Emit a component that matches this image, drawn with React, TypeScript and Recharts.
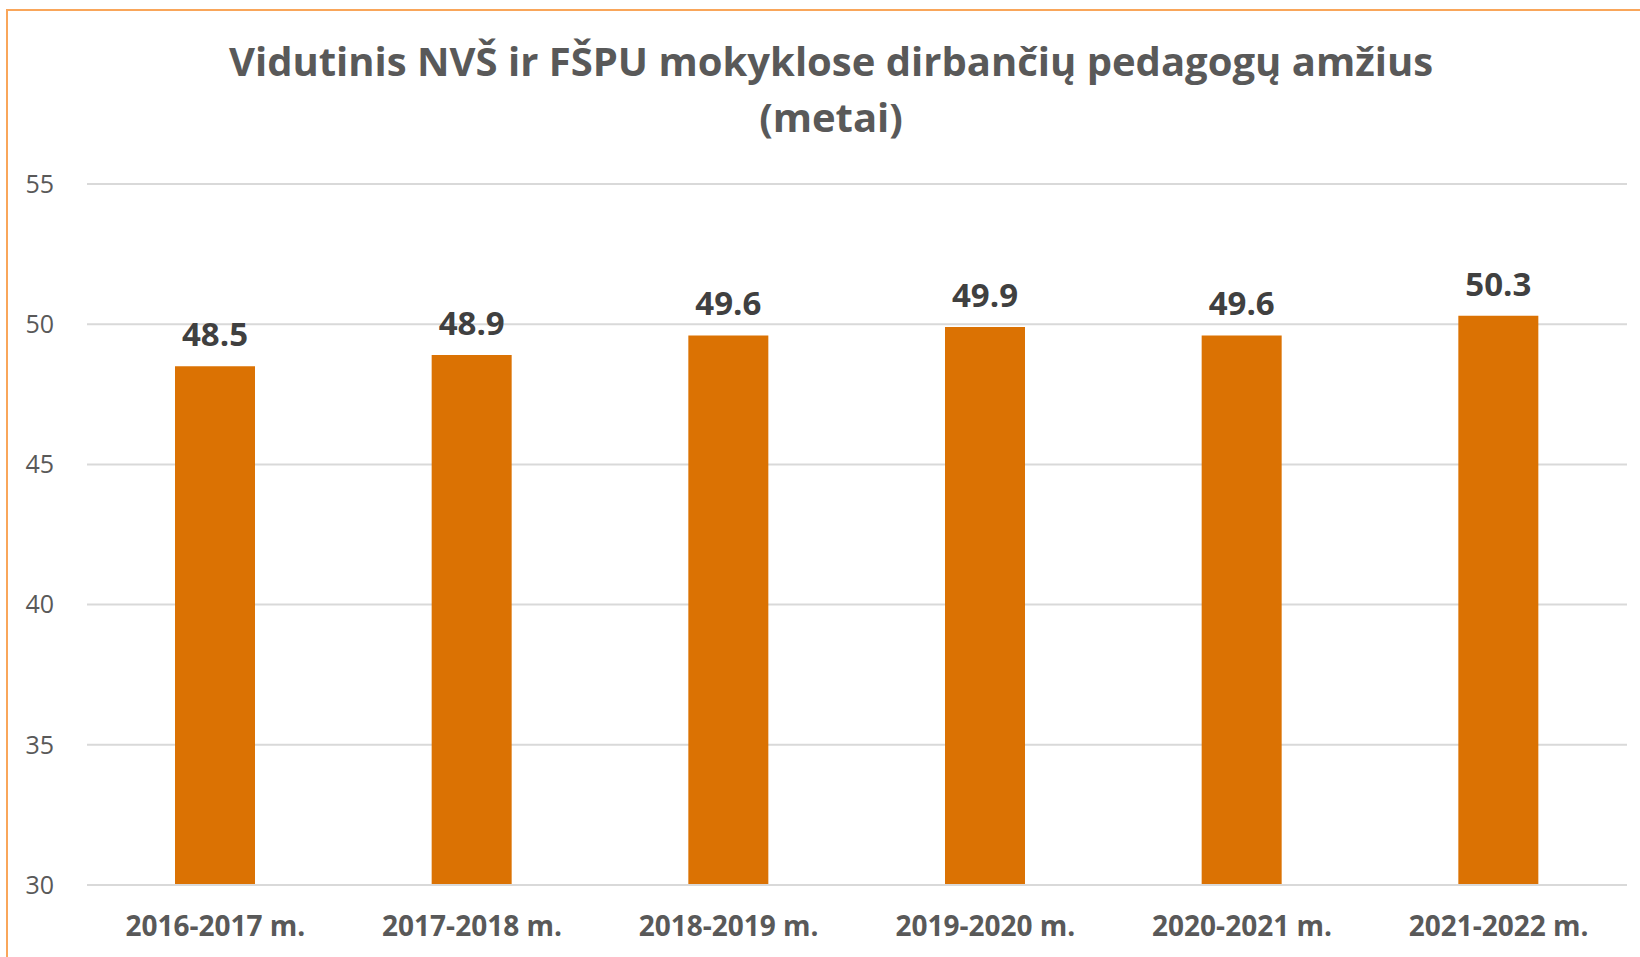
import React from 'react'
import { BarChart, Bar, XAxis, YAxis, CartesianGrid, LabelList } from 'recharts'

const categories = ['2016-2017 m.', '2017-2018 m.', '2018-2019 m.', '2019-2020 m.', '2020-2021 m.', '2021-2022 m.']
const ages = [48.5, 48.9, 49.6, 49.9, 49.6, 50.3]
const yTicks = [30, 35, 40, 45, 50, 55]
const titleLines = ['Vidutinis NVŠ ir FŠPU mokyklose dirbančių pedagogų amžius', '(metai)']

const FONT = '"Open Sans", "Noto Sans", sans-serif'

export default function App() {
  const data = categories.map((c, i) => ({ label: c, value: ages[i] }))

  return (
    <div style={{ position: 'fixed', left: 0, top: 0, width: 1640, height: 957, background: '#fff', overflow: 'hidden', fontFamily: FONT }}>
      {/* orange frame, top and left edges only visible */}
      <div
        style={{
          position: 'absolute', left: 6, top: 9, width: 1700, height: 1000,
          borderTop: '2px solid #F9A65A', borderLeft: '2px solid #F9A65A',
        }}
      />
      <div
        style={{
          position: 'absolute', left: 0, top: 33, width: 1662, textAlign: 'center',
          color: '#595959', fontWeight: 700, fontSize: 40, lineHeight: '56px',
        }}
      >
        {titleLines.map((t) => (
          <div key={t}>{t}</div>
        ))}
      </div>
      <div style={{ position: 'absolute', left: 0, top: 0 }}>
        <BarChart
          width={1640}
          height={957}
          data={data}
          margin={{ top: 184, right: 13, bottom: 0, left: 0 }}
          style={{ fontFamily: FONT }}
        >
          <CartesianGrid vertical={false} stroke="#d9d9d9" strokeWidth={2} />
          <XAxis
            dataKey="label"
            height={72}
            axisLine={{ stroke: '#d9d9d9', strokeWidth: 2 }}
            tickLine={false}
            tickSize={0}
            tickMargin={31}
            tick={{ fontSize: 28, fontWeight: 700, fill: '#595959' }}
            interval={0}
          />
          <YAxis
            width={87}
            domain={[30, 55]}
            ticks={yTicks}
            axisLine={false}
            tickLine={false}
            tickSize={0}
            tickMargin={33}
            tick={{ fontSize: 25, fill: '#595959' }}
            interval={0}
          />
          <Bar dataKey="value" fill="#DB7203" barSize={80} isAnimationActive={false}>
            <LabelList
              dataKey="value"
              position="top"
              offset={20}
              style={{ fontSize: 33, fontWeight: 700, fill: '#404040' }}
              formatter={(v: any) => Number(v).toFixed(1)}
            />
          </Bar>
        </BarChart>
      </div>
    </div>
  )
}
